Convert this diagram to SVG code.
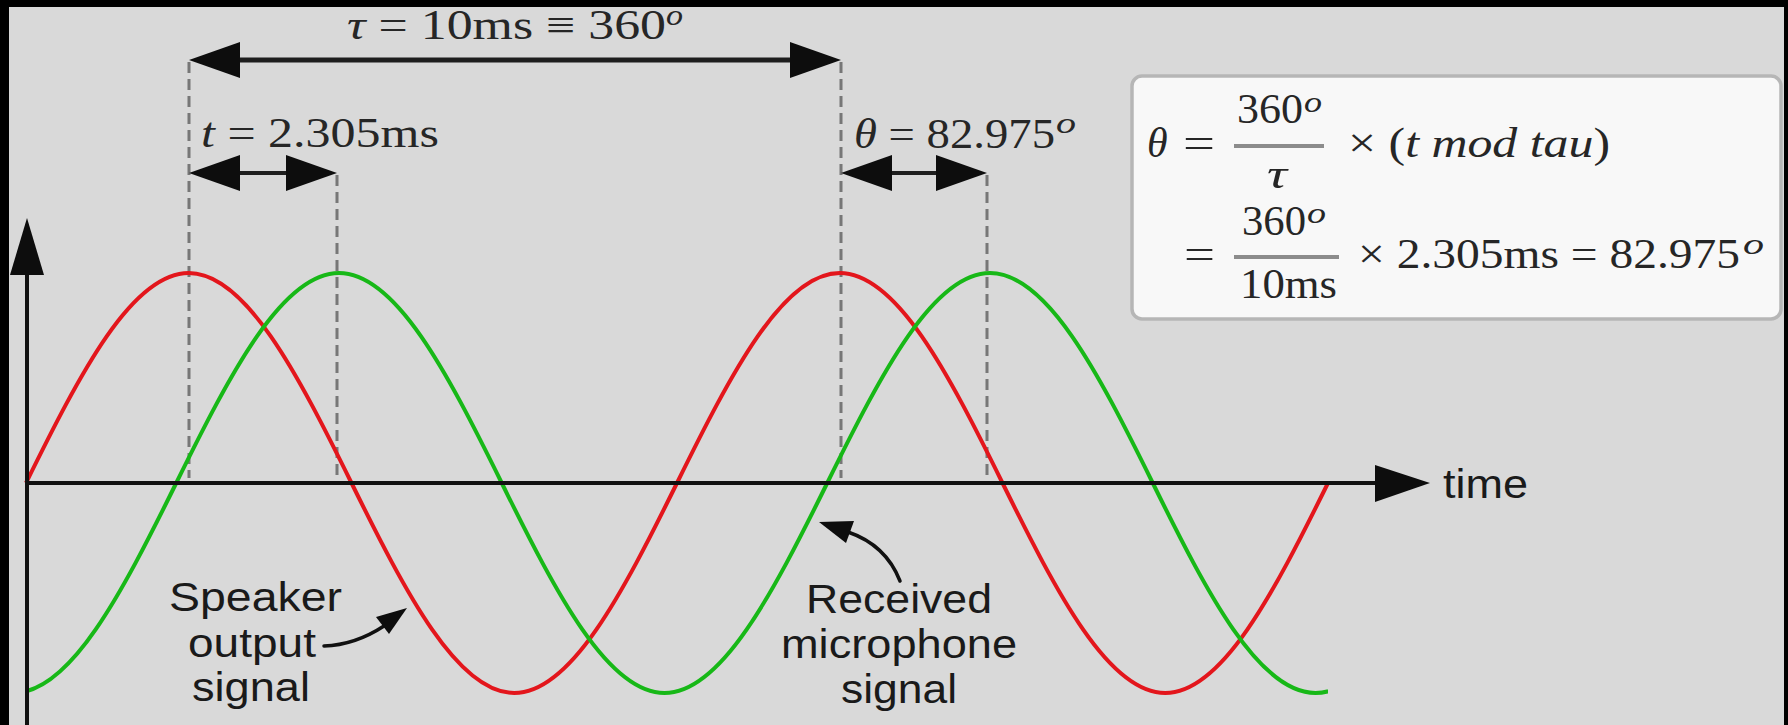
<svg xmlns="http://www.w3.org/2000/svg" width="1788" height="725" viewBox="0 0 1788 725">
<style>
.math{font-family:"Liberation Serif","DejaVu Serif",serif;font-size:42px;fill:#262626}
.it{font-style:italic}
.sup{font-family:"Liberation Serif","DejaVu Serif",serif;font-size:30px;font-style:italic;fill:#262626}
.sans{font-family:"Liberation Sans",Arial,sans-serif;font-size:41px;fill:#1a1a1a}
.dash{stroke:#777;stroke-width:3;stroke-dasharray:11 6;fill:none}
.dim{stroke:#1e1e1e;fill:none}
.head{fill:#0d0d0d}
.bar{stroke:#8c8c8c;stroke-width:4}
.wave{fill:none;stroke-width:4;stroke-linejoin:round}
.note{fill:none;stroke:#111;stroke-width:3.5;stroke-linecap:round}
</style>
<defs>
<clipPath id="plot"><rect x="26" y="200" width="1302" height="520"/></clipPath>
</defs>
<rect x="0" y="0" width="1788" height="725" fill="#d9d9d9"/>
<rect x="0" y="0" width="1788" height="7" fill="#000"/>
<rect x="0" y="0" width="9" height="725" fill="#000"/>
<rect x="1784" y="0" width="4" height="725" fill="#000"/>

<g id="guides">
<line class="dash" x1="189" y1="62" x2="189" y2="478"/>
<line class="dash" x1="337" y1="175" x2="337" y2="478"/>
<line class="dash" x1="841" y1="62" x2="841" y2="478"/>
<line class="dash" x1="987" y1="175" x2="987" y2="478"/>
</g>

<g id="speaker-wave">
<path class="wave" stroke="#e3161c" d="M26,483 c54.41,-110.27 106.06,-210 162.75,-210 c56.69,0 108.34,99.730 162.75,210 c54.41,110.27 106.06,210 162.75,210 c56.69,0 108.34,-99.73 162.75,-210 c54.41,-110.27 106.06,-210 162.75,-210 c56.69,0 108.34,99.73 162.75,210 c54.41,110.27 106.06,210 162.75,210 c56.69,0 108.34,-99.73 162.75,-210"/>
</g>
<g id="mic-wave" clip-path="url(#plot)">
<path class="wave" stroke="#17b817" d="M13.5,693 c56.69,0 108.34,-99.73 162.75,-210 c54.41,-110.27 106.06,-210 162.75,-210 c56.69,0 108.34,99.73 162.75,210 c54.41,110.27 106.06,210 162.75,210 c56.69,0 108.34,-99.73 162.75,-210 c54.41,-110.27 106.06,-210 162.75,-210 c56.69,0 108.34,99.73 162.75,210 c54.41,110.27 106.06,210 162.75,210 c56.69,0 108.34,-99.73 162.75,-210"/>
</g>

<g id="axes">
<line x1="27" y1="725" x2="27" y2="272" stroke="#111" stroke-width="4"/>
<polygon class="head" points="27,218 10,275 44,275"/>
<line x1="27" y1="483" x2="1378" y2="483" stroke="#111" stroke-width="4"/>
<polygon class="head" points="1430,483 1375,465 1375,502"/>
<text id="time-label" class="sans" x="1443" y="498" textLength="85" lengthAdjust="spacingAndGlyphs">time</text>
</g>

<g id="connectors">
<line class="dim" x1="238" y1="60" x2="792" y2="60" stroke-width="5"/>
<polygon class="head" points="189,60 240,42 240,78"/>
<polygon class="head" points="841,60 790,42 790,78"/>
<line class="dim" x1="238" y1="173" x2="288" y2="173" stroke-width="4"/>
<polygon class="head" points="189,173 240,155 240,191"/>
<polygon class="head" points="337,173 286,155 286,191"/>
<line class="dim" x1="890" y1="173" x2="938" y2="173" stroke-width="4"/>
<polygon class="head" points="841,173 892,155 892,191"/>
<polygon class="head" points="987,173 936,155 936,191"/>
<path class="note" d="M324,646 Q355,645 384,626"/>
<polygon class="head" points="407,608 389,634 376,617"/>
<path class="note" d="M900,581 Q886,545 848,532"/>
<polygon class="head" points="819,522 854,521 846,543"/>
</g>

<g id="label-tau">
<text class="math" x="347" y="39" textLength="319" lengthAdjust="spacingAndGlyphs"><tspan class="it">τ</tspan> = 10ms ≡ 360</text>
<text class="sup" x="666" y="25" textLength="17" lengthAdjust="spacingAndGlyphs">o</text>
</g>
<g id="label-t">
<text class="math" x="201" y="147" textLength="238" lengthAdjust="spacingAndGlyphs"><tspan class="it">t</tspan> = 2.305ms</text>
</g>
<g id="label-theta">
<text class="math" x="854" y="148" textLength="201" lengthAdjust="spacingAndGlyphs"><tspan class="it">θ</tspan> = 82.975</text>
<text class="sup" x="1056" y="133" textLength="20" lengthAdjust="spacingAndGlyphs">o</text>
</g>

<g id="formula-box">
<rect x="1132" y="76" width="649" height="243" rx="10" fill="#f8f8f8" stroke="#b6b6b6" stroke-width="3.5"/>
<text class="math it" x="1147" y="157">θ</text>
<text class="math" x="1183" y="157" textLength="32" lengthAdjust="spacingAndGlyphs">=</text>
<text class="math" x="1237" y="123" textLength="66" lengthAdjust="spacingAndGlyphs">360</text>
<text class="sup" x="1304" y="112" textLength="18" lengthAdjust="spacingAndGlyphs">o</text>
<line class="bar" x1="1234" y1="146" x2="1324" y2="146"/>
<text class="math it" x="1267" y="188" textLength="20" lengthAdjust="spacingAndGlyphs">τ</text>
<text class="math" x="1348" y="157" textLength="262" lengthAdjust="spacingAndGlyphs">× (<tspan class="it">t mod tau</tspan>)</text>

<text class="math" x="1184" y="268" textLength="31" lengthAdjust="spacingAndGlyphs">=</text>
<text class="math" x="1242" y="235" textLength="64" lengthAdjust="spacingAndGlyphs">360</text>
<text class="sup" x="1307" y="223" textLength="19" lengthAdjust="spacingAndGlyphs">o</text>
<line class="bar" x1="1234" y1="257" x2="1339" y2="257"/>
<text class="math" x="1240" y="298" textLength="97" lengthAdjust="spacingAndGlyphs">10ms</text>
<text class="math" x="1358" y="268" textLength="382" lengthAdjust="spacingAndGlyphs">× 2.305ms = 82.975</text>
<text class="sup" x="1743" y="254" textLength="21" lengthAdjust="spacingAndGlyphs">o</text>
</g>

<g id="speaker-label">
<text class="sans" x="169" y="611" textLength="173" lengthAdjust="spacingAndGlyphs">Speaker</text>
<text class="sans" x="188" y="657" textLength="128" lengthAdjust="spacingAndGlyphs">output</text>
<text class="sans" x="192" y="701" textLength="118" lengthAdjust="spacingAndGlyphs">signal</text>
</g>
<g id="mic-label">
<text class="sans" x="806" y="613" textLength="186" lengthAdjust="spacingAndGlyphs">Received</text>
<text class="sans" x="781" y="658" textLength="236" lengthAdjust="spacingAndGlyphs">microphone</text>
<text class="sans" x="841" y="703" textLength="116" lengthAdjust="spacingAndGlyphs">signal</text>
</g>
</svg>
